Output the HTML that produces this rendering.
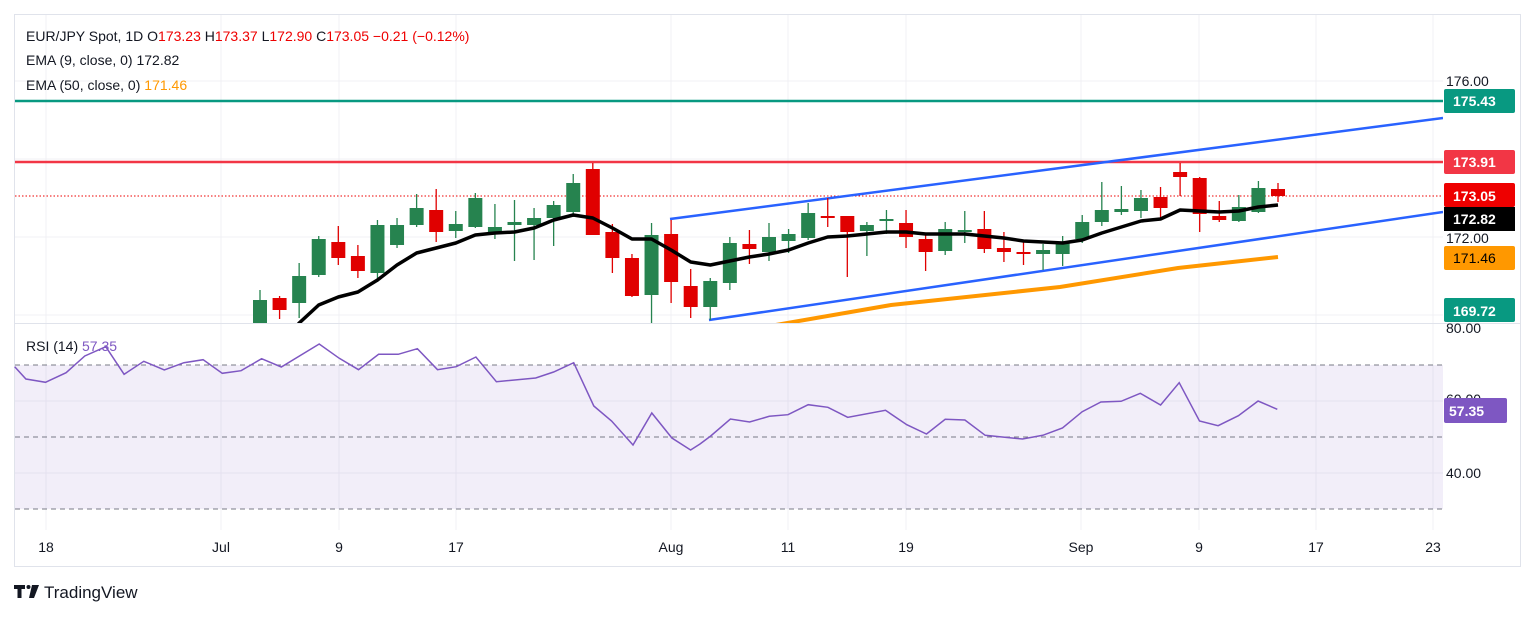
<!DOCTYPE html><html><head><style>
body{margin:0;background:#fff;width:1536px;height:617px;overflow:hidden;font-family:"Liberation Sans",sans-serif}
svg text{font-family:"Liberation Sans",sans-serif}
</style></head><body>
<svg id="s" width="1536" height="617" xmlns="http://www.w3.org/2000/svg">
<defs><clipPath id="mp"><rect x="15" y="15" width="1428" height="308"/></clipPath></defs>
<rect x="14.5" y="14.5" width="1506" height="552" fill="none" stroke="#e0e3eb"/>
<g stroke="#f0f1f4" stroke-width="1">
<line x1="15" x2="1443" y1="81" y2="81"/><line x1="15" x2="1443" y1="159" y2="159"/><line x1="15" x2="1443" y1="237" y2="237"/><line x1="15" x2="1443" y1="315" y2="315"/>
<line x1="15" x2="1443" y1="401" y2="401"/><line x1="15" x2="1443" y1="473" y2="473"/>
</g>
<g id="vg" stroke="#f0f1f4"></g>
<rect x="15" y="365" width="1428" height="144" fill="#7e57c2" fill-opacity="0.1"/>
<g stroke="#787b86" stroke-dasharray="5,4"><line x1="15" x2="1443" y1="365" y2="365"/><line x1="15" x2="1443" y1="437" y2="437"/><line x1="15" x2="1443" y1="509" y2="509"/></g>
<g clip-path="url(#mp)">
<line x1="15" x2="1443" y1="101" y2="101" stroke="#089981" stroke-width="2.5"/>
<line x1="15" x2="1443" y1="162" y2="162" stroke="#f23645" stroke-width="2.5"/>
<line x1="15" x2="1443" y1="196" y2="196" stroke="#e00" stroke-dasharray="1.5,2"/>
<line x1="670" y1="219" x2="1443" y2="118" stroke="#2962ff" stroke-width="2.5"/>
<line x1="709" y1="320" x2="1443" y2="212" stroke="#2962ff" stroke-width="2.5"/>
<g id="c"></g>
<polyline id="e9" fill="none" stroke="#000" stroke-width="3.5" stroke-linejoin="round"/>
<polyline points="770,326 891,305 1060,287 1178,268 1278,257" fill="none" stroke="#ff9800" stroke-width="4"/>
</g>
<polyline id="rsi" fill="none" stroke="#7e57c2" stroke-width="1.5"/>
<line x1="15" x2="1520" y1="323.5" y2="323.5" stroke="#e0e3eb"/>
<g font-size="14" fill="#131722">
<text x="1446" y="86">176.00</text><text x="1446" y="243">172.00</text><text x="1446" y="333">80.00</text><text x="1446" y="404">60.00</text><text x="1446" y="478">40.00</text>
</g>
<g font-size="14" font-weight="bold" fill="#fff">
<rect x="1444" y="89" width="71" height="24" rx="2" fill="#089981"/><text x="1453" y="106">175.43</text>
<rect x="1444" y="150" width="71" height="24" rx="2" fill="#f23645"/><text x="1453" y="167">173.91</text>
<rect x="1444" y="183" width="71" height="24" rx="2" fill="#e00"/><text x="1453" y="201">173.05</text>
<rect x="1444" y="207" width="71" height="24" fill="#000"/><text x="1453" y="224">172.82</text>
<rect x="1444" y="246" width="71" height="24" rx="2" fill="#ff9800"/><text x="1453" y="263" fill="#000" font-weight="normal">171.46</text>
<rect x="1444" y="298" width="71" height="24" rx="2" fill="#089981"/><text x="1453" y="316">169.72</text>
<rect x="1444" y="398" width="63" height="25" rx="2" fill="#7e57c2"/><text x="1449" y="416">57.35</text>
</g>
<g font-size="14" fill="#131722" text-anchor="middle">
<text x="46" y="552">18</text><text x="221" y="552">Jul</text><text x="339" y="552">9</text><text x="456" y="552">17</text><text x="671" y="552">Aug</text><text x="788" y="552">11</text><text x="906" y="552">19</text><text x="1081" y="552">Sep</text><text x="1199" y="552">9</text><text x="1316" y="552">17</text><text x="1433" y="552">23</text>
</g>
<g font-size="14" fill="#131722">
<text x="26" y="41">EUR/JPY Spot, 1D  <tspan fill="#131722">O</tspan><tspan fill="#e00">173.23</tspan> H<tspan fill="#e00">173.37</tspan> L<tspan fill="#e00">172.90</tspan> C<tspan fill="#e00">173.05</tspan> <tspan fill="#e00">−0.21 (−0.12%)</tspan></text>
<text x="26" y="65">EMA (9, close, 0)  <tspan fill="#131722">172.82</tspan></text>
<text x="26" y="90">EMA (50, close, 0)  <tspan fill="#ff9800">171.46</tspan></text>
<text x="26" y="351">RSI (14)  <tspan fill="#7e57c2">57.35</tspan></text>
</g>
<g fill="#131722"><path d="M14 585h11v4h-3.5v9h-4v-9h-3.5z"/><circle cx="28.5" cy="587" r="2"/><path d="M32 585h7l-5 13h-5z"/></g>
<text x="44" y="598" font-size="17" fill="#131722">TradingView</text>
</svg>
<script>
var ns="http://www.w3.org/2000/svg";
function el(p,t,a){var e=document.createElementNS(ns,t);for(var k in a)e.setAttribute(k,a[k]);p.appendChild(e);return e;}
[46,221,339,456,671,788,906,1081,1199,1316,1433].forEach(function(x){el(document.getElementById('vg'),'line',{x1:x,x2:x,y1:15,y2:530});});
var C=[["g",300,330,290,330],["r",298,310,296,319],["g",276,303,263,318],["g",239,275,236,277],["r",242,258,226,265],["r",256,271,245,278],["g",225,273,220,282],["g",225,245,218,248],["g",208,225,194,227],["r",210,232,189,242],["g",224,231,211,238],["g",198,227,193,228],["g",227,233,204,239],["g",222,225,200,261],["g",218,225,208,260],["g",205,218,201,246],["g",183,212,174,217],["r",169,235,163,235],["r",232,258,224,273],["r",258,296,254,297],["g",235,295,223,330],["r",234,282,220,303],["r",286,307,269,318],["g",281,307,278,320],
["g",243,283,237,290],["r",244,249,230,264],["g",237,252,223,261],["g",234,241,229,253],["g",213,238,203,240],["r",216,218,198,227],["r",216,232,216,277],["g",225,231,222,256],["g",219,221,210,234],["r",223,237,210,248],["r",239,252,235,271],["g",229,251,222,255],["g",230,232,211,243],["r",229,249,211,253],["r",248,252,232,262],["r",252,254,241,265],["g",250,254,244,270],["g",242,254,236,266],["g",222,239,215,243],["g",210,222,182,226],["g",209,212,186,215],["g",198,211,190,218],["r",197,208,187,218],["r",172,177,163,196],["r",178,214,177,232],["r",216,220,201,222],["g",207,221,195,222],["g",188,212,181,213],["r",189,196,183,202]];
var g=document.getElementById('c');
C.forEach(function(c,i){var x=260+i*((1278-260)/(C.length-1));var col=c[0]=="g"?"#26834f":"#e00000";
el(g,'line',{x1:x,x2:x,y1:c[3],y2:c[4],stroke:col,'stroke-width':1.3});
el(g,'rect',{x:x-7,y:c[1],width:14,height:Math.max(2,c[2]-c[1]),fill:col});});
var E=[323,305,297,292,280,265,253,248,243,235,233,232,228,220,215,218,228,239,239,250,262,265,261,257,254,250,243,237,236,234,232,232,234,234,234,236,238,241,242,243,240,233,227,221,219,210,211,212,211,207,205];
var step=(1278-260)/(C.length-1),pts=[];
E.forEach(function(y,i){pts.push((260+(i+2)*step).toFixed(1)+","+y);});
pts.unshift("292,332");
document.getElementById('e9').setAttribute('points',pts.join(' '));
var R1=[[33,140],[58,177],[102,187],[148,158],[190,108],[237,80],[278,163],[322,124],[368,150],[412,128],[455,119],[498,160],[540,152],[586,116],[630,141],[715,72],[760,115],[803,149],[848,103],[892,103],[935,86],[980,149],[1022,140],[1066,111],[1112,185],[1200,174],[1240,156],[1285,128],[1330,258],[1370,303],[1418,375],[1460,279],[1505,354],[1547,390]];
var R2=[[0,372],[20,348],[57,297],[93,306],[130,289],[165,284],[203,254],[240,262],[277,292],[348,271],[388,314],[425,342],[460,298],[497,300],[535,346],[605,357],[643,346],[680,324],[717,275],[752,246],[790,244],[826,220],[864,255],[899,188],[937,303],[972,317],[1010,287],[1047,243],[1083,268]];
var rp=R1.map(function(p){return (p[0]/2.24).toFixed(1)+","+(p[1]/3+320).toFixed(1);}).concat(R2.map(function(p){return (p[0]/1.876+700).toFixed(1)+","+(p[1]/3+320).toFixed(1);}));
document.getElementById('rsi').setAttribute('points',rp.join(' '));
</script>
</body></html>
